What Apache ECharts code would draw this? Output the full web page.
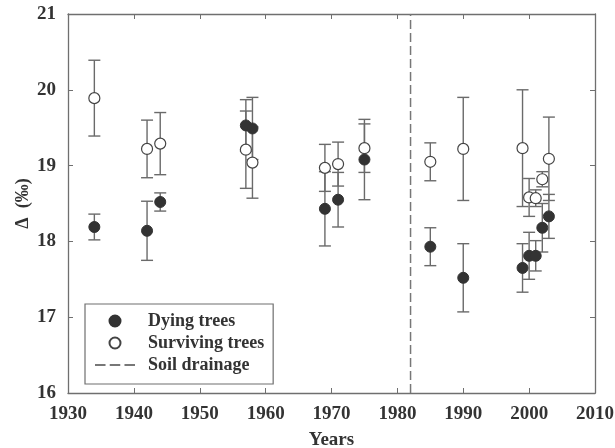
<!DOCTYPE html>
<html>
<head>
<meta charset="utf-8">
<script src="https://cdn.jsdelivr.net/npm/echarts@6/dist/echarts.min.js"></script>
<style>
  html, body { margin: 0; padding: 0; background: #fff; }
  #chart { width: 615px; height: 448px; }
</style>
</head>
<body>
<div id="chart"></div>
<script>
// sampling years (same for both groups)
var years = [1934, 1942, 1944, 1957, 1958, 1969, 1971, 1975, 1985, 1990, 1999, 2000, 2001, 2002, 2003];

// dying trees: mean and error
var dyingMean = [18.19, 18.14, 18.52, 19.53, 19.49, 18.43, 18.55, 19.08, 17.93, 17.52, 17.65, 17.81, 17.81, 18.18, 18.33];
var dyingErr = [0.17, 0.39, 0.12, 0.34, 0.41, 0.49, 0.36, 0.53, 0.25, 0.45, 0.32, 0.31, 0.2, 0.32, 0.29];

// surviving trees: mean and error
var survMean = [19.89, 19.22, 19.29, 19.21, 19.04, 18.97, 19.02, 19.23, 19.05, 19.22, 19.23, 18.58, 18.57, 18.82, 19.09];
var survErr = [0.5, 0.38, 0.41, 0.51, 0.47, 0.31, 0.29, 0.32, 0.25, 0.68, 0.77, 0.25, 0.11, 0.1, 0.55];

var drainageYear = 1982;
var xTicks = [1930, 2010, 10];
var yTicks = [16, 21, 1];

var serif = "'Liberation Serif', 'DejaVu Serif', serif";
var axisGray = "#6f6f6f";

function rows(m, e) {
  return years.map(function (y, i) { return [y, m[i], e[i]]; });
}

function errorBars(params, api) {
  var x = api.value(0), m = api.value(1), e = api.value(2);
  var hi = api.coord([x, m + e]);
  var lo = api.coord([x, m - e]);
  var w = 6;
  var st = { stroke: "#6a6a6a", lineWidth: 1.4 };
  return {
    type: "group",
    children: [
      { type: "line", shape: { x1: hi[0], y1: hi[1], x2: lo[0], y2: lo[1] }, style: st },
      { type: "line", shape: { x1: hi[0] - w, y1: hi[1], x2: hi[0] + w, y2: hi[1] }, style: st },
      { type: "line", shape: { x1: lo[0] - w, y1: lo[1], x2: lo[0] + w, y2: lo[1] }, style: st }
    ]
  };
}

function mkX(pos, show) {
  return {
    type: "value",
    position: pos,
    min: xTicks[0], max: xTicks[1], interval: xTicks[2],
    splitLine: { show: false },
    axisLine: { show: true, onZero: false, lineStyle: { color: axisGray, width: 1.3 } },
    axisTick: { show: true, inside: true, length: 5, lineStyle: { color: axisGray } },
    axisLabel: {
      show: show, margin: 12, color: "#333",
      fontFamily: serif, fontWeight: "bold", fontSize: 19,
      formatter: function (v) { return String(v); }
    },
    name: show ? "Years" : "",
    nameLocation: "middle",
    nameGap: 38,
    nameMoveOverlap: false,
    nameTextStyle: { fontFamily: serif, fontWeight: "bold", fontSize: 19, color: "#333" }
  };
}

function mkY(pos, show) {
  return {
    type: "value",
    position: pos,
    min: yTicks[0], max: yTicks[1], interval: yTicks[2],
    splitLine: { show: false },
    axisLine: { show: true, onZero: false, lineStyle: { color: axisGray, width: 1.3 } },
    axisTick: { show: true, inside: true, length: 5, lineStyle: { color: axisGray } },
    axisLabel: {
      show: show, margin: 12, color: "#333",
      fontFamily: serif, fontWeight: "bold", fontSize: 19
    },
    name: show ? "\u0394  (\u2030)" : "",
    nameLocation: "middle",
    nameGap: 36,
    nameRotate: 90,
    nameMoveOverlap: false,
    nameTextStyle: { fontFamily: serif, fontWeight: "bold", fontSize: 18, color: "#333" }
  };
}

var chart = echarts.init(document.getElementById("chart"), null, { renderer: "canvas" });

var option = {
  animation: false,
  backgroundColor: "#fff",
  grid: { left: 68, right: 20, top: 14, bottom: 55, outerBoundsMode: "none" },
  xAxis: [mkX("bottom", true), mkX("top", false)],
  yAxis: [mkY("left", true), mkY("right", false)],
  legend: {
    orient: "vertical",
    left: 85,
    top: 304,
    data: [
      { name: "Dying trees", icon: "circle" },
      { name: "Surviving trees", icon: "circle" },
      { name: "Soil drainage", icon: "path://M0,0h10v2h-10z M14,0h10v2h-10z M28,0h10v2h-10z" }
    ],
    itemWidth: 40,
    itemHeight: 11,
    itemGap: 4,
    padding: [8, 9, 10, 10],
    borderColor: axisGray,
    borderWidth: 1.2,
    borderRadius: 0,
    textStyle: {
      fontFamily: serif, fontWeight: "bold", fontSize: 18, color: "#333",
      padding: [0, 0, 0, 8]
    }
  },
  series: [
    {
      name: "Soil drainage",
      type: "line",
      data: [[drainageYear, yTicks[0]], [drainageYear, yTicks[1]]],
      symbol: "none",
      itemStyle: { color: "#777" },
      lineStyle: { color: "#777", width: 1.5, type: [9, 4] },
      z: 1
    },
    {
      name: "dyingErr",
      type: "custom",
      renderItem: errorBars,
      data: rows(dyingMean, dyingErr),
      encode: { x: 0, y: 1 },
      z: 2
    },
    {
      name: "survErr",
      type: "custom",
      renderItem: errorBars,
      data: rows(survMean, survErr),
      encode: { x: 0, y: 1 },
      z: 2
    },
    {
      name: "Dying trees",
      type: "scatter",
      data: rows(dyingMean, dyingErr),
      symbol: "circle",
      symbolSize: 11,
      itemStyle: { color: "#333", borderColor: "#333", borderWidth: 1, opacity: 1 },
      z: 3
    },
    {
      name: "Surviving trees",
      type: "scatter",
      data: rows(survMean, survErr),
      symbol: "circle",
      symbolSize: 11,
      itemStyle: { color: "#fff", borderColor: "#444", borderWidth: 1.2, opacity: 1 },
      z: 4
    }
  ]
};

chart.setOption(option);
</script>
</body>
</html>
